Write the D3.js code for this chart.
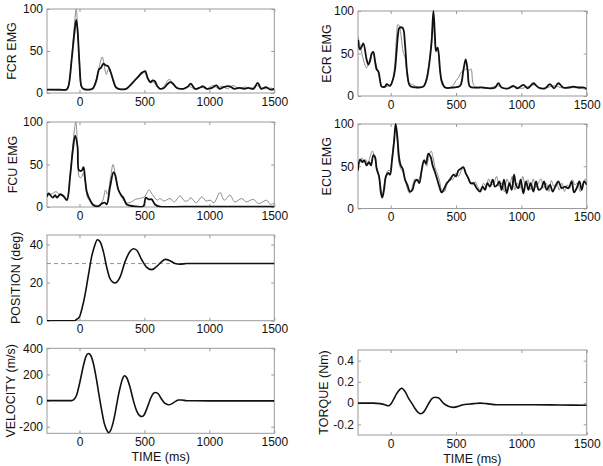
<!DOCTYPE html>
<html>
<head>
<meta charset="utf-8">
<script src="https://cdn.jsdelivr.net/npm/d3@7"></script>
<style>
  html, body { margin: 0; padding: 0; background: #fff; }
  svg { display: block; }
  text { font-family: "Liberation Sans", Arial, Helvetica, sans-serif; fill: #111; }
</style>
</head>
<body>
<svg id="chart" width="603" height="466"></svg>
<script>
// ---------------- DATA (time in ms, value) ----------------
const timeTicks = [0, 500, 1000, 1500];
const emgTicks = [0, 50, 100];
const positionTicks = [0, 20, 40];
const velocityTicks = [-200, 0, 200, 400];
const torqueTicks = [-0.2, 0, 0.2, 0.4];
const positionTarget = 30;

const fcrBlack = [[-250,4],[-150,4],[-100,4],[-85,8],[-60,40],[-40,70],[-25,87],[-15,75],[0,35],[15,8],[30,5],[60,4],[100,5],[130,15],[150,28],[165,30],[185,35],[200,33],[220,32],[240,25],[260,15],[280,7],[300,5],[360,5],[390,9],[420,14],[450,19],[480,24],[505,26],[525,18],[545,13],[565,15],[580,14],[600,8],[620,5],[650,6],[680,11],[700,13],[720,11],[750,6],[800,5],[830,7],[857,11],[890,5],[920,6],[952,8],[980,5],[1020,6],[1054,9],[1080,5],[1110,7],[1156,8],[1190,5],[1230,6],[1270,5],[1300,6],[1340,5],[1372,12],[1400,5],[1436,7],[1470,4],[1500,5]];
const fcrGray = [[-250,4],[-100,4],[-85,8],[-60,42],[-40,80],[-25,100],[-15,80],[0,35],[15,7],[30,4],[100,5],[130,17],[150,30],[175,43],[190,33],[207,22],[222,28],[240,25],[260,14],[280,6],[300,5],[350,5],[380,8],[420,15],[460,20],[490,24],[505,24],[525,16],[550,12],[570,13],[600,7],[620,5],[650,8],[690,16],[720,12],[750,7],[800,5],[840,8],[870,6],[900,4],[940,7],[980,5],[1030,9],[1060,6],[1100,8],[1140,5],[1180,9],[1220,6],[1280,7],[1320,5],[1360,9],[1400,6],[1440,5],[1470,6],[1500,4]];

const ecrBlack = [[-250,66],[-235,55],[-222,58],[-209,62],[-184,43],[-171,37],[-158,41],[-145,50],[-133,52],[-120,41],[-107,31],[-94,29],[-82,19],[-69,11],[-43,11],[-31,14],[-5,12],[20,21],[33,31],[46,54],[58,75],[66,80],[92,80],[110,60],[128,25],[148,12],[199,10],[250,11],[276,20],[288,30],[301,45],[314,65],[327,100],[339,70],[347,53],[360,57],[378,30],[390,18],[416,10],[480,10],[531,12],[556,30],[574,43],[589,30],[607,11],[658,10],[700,10],[760,9],[800,10],[824,15],[850,10],[900,9],[939,12],[970,9],[1015,13],[1050,9],[1092,15],[1130,10],[1180,9],[1219,14],[1250,9],[1283,15],[1320,10],[1360,10],[1398,11],[1440,10],[1480,10],[1500,8]];
const ecrGray = [[-250,70],[-235,60],[-220,50],[-200,38],[-185,33],[-170,38],[-150,48],[-135,50],[-120,43],[-100,30],[-85,22],[-70,12],[-40,11],[-10,12],[15,18],[30,35],[45,70],[55,84],[65,83],[80,70],[95,52],[110,45],[125,25],[140,15],[160,14],[200,11],[250,12],[275,22],[290,35],[305,55],[318,80],[327,92],[337,65],[350,55],[365,50],[380,25],[400,12],[450,10],[480,13],[500,18],[520,22],[540,28],[560,30],[580,32],[600,30],[615,32],[630,15],[650,10],[700,10],[750,9],[820,12],[860,9],[900,9],[950,11],[1000,9],[1050,11],[1100,13],[1150,9],[1200,10],[1250,12],[1300,10],[1350,9],[1400,10],[1450,9],[1500,8]];

const fcuBlack = [[-250,12],[-238,16],[-225,14],[-205,11],[-187,14],[-174,11],[-149,15],[-123,13],[-97,8],[-72,36],[-51,67],[-33,84],[-15,71],[-3,43],[18,43],[31,47],[44,32],[56,18],[82,8],[108,2],[146,1],[172,4],[197,5],[210,3],[236,24],[262,41],[274,38],[300,20],[326,13],[338,11],[364,3],[415,1],[492,1],[510,11],[531,9],[556,9],[582,3],[620,0.5],[800,0.5],[1000,0.5],[1200,0.5],[1500,0.5]];
const fcuGray = [[-250,15],[-220,15],[-180,18],[-150,14],[-120,12],[-100,9],[-70,40],[-50,75],[-28,100],[-15,70],[0,35],[15,35],[30,40],[45,30],[60,12],[80,7],[110,3],[150,2],[180,8],[200,20],[215,15],[240,35],[258,50],[280,35],[300,20],[330,10],[360,5],[400,6],[430,9],[460,10],[500,12],[536,20],[560,15],[600,8],[620,10],[650,7],[697,10],[730,6],[774,13],[810,7],[840,8],[856,11],[900,5],[941,12],[975,7],[1005,8],[1035,5],[1082,17],[1115,8],[1159,14],[1195,6],[1249,10],[1285,6],[1338,9],[1380,4],[1441,8],[1470,3],[1500,5]];

const ecuBlack = [[-250,45],[-235,58],[-217,55],[-202,57],[-184,51],[-166,55],[-151,51],[-133,63],[-120,61],[-107,47],[-89,38],[-74,18],[-64,13],[-51,22],[-36,38],[-18,42],[-5,40],[10,57],[26,79],[38,100],[51,85],[64,61],[77,51],[92,47],[110,34],[128,28],[148,20],[166,22],[186,32],[204,34],[219,30],[237,45],[255,57],[270,53],[288,65],[306,61],[321,51],[339,43],[357,34],[372,26],[390,19],[411,24],[429,30],[454,34],[480,40],[500,38],[518,45],[536,47],[556,49],[574,42],[594,36],[612,30],[633,30],[658,24],[684,20],[704,26],[722,22],[740,30],[760,26],[781,34],[798,26],[816,28],[832,32],[849,22],[867,34],[888,18],[908,30],[926,22],[944,40],[959,28],[977,24],[995,34],[1015,18],[1036,32],[1054,22],[1071,30],[1092,20],[1112,32],[1133,22],[1153,24],[1173,32],[1194,22],[1219,28],[1240,20],[1260,26],[1283,32],[1309,24],[1334,26],[1360,24],[1385,32],[1403,19],[1423,24],[1444,32],[1462,22],[1480,32],[1500,28]];
const ecuGray = [[-250,50],[-235,55],[-220,60],[-205,55],[-190,58],[-175,52],[-160,60],[-140,68],[-125,62],[-110,50],[-95,42],[-80,30],[-65,15],[-50,28],[-35,40],[-20,45],[-5,45],[10,60],[25,82],[38,95],[50,80],[62,55],[75,48],[90,44],[105,38],[125,25],[145,18],[165,25],[185,35],[205,32],[225,38],[245,52],[260,58],[275,50],[292,62],[310,68],[325,60],[340,48],[360,40],[375,32],[390,22],[410,20],[430,28],[455,36],[475,34],[500,42],[520,38],[540,45],[560,48],[580,40],[600,33],[625,28],[645,32],[665,26],[690,22],[710,30],[730,25],[750,35],[770,28],[790,30],[810,38],[830,26],[850,30],[870,20],[890,35],[910,28],[930,38],[950,22],[970,30],[990,24],[1010,38],[1030,28],[1050,34],[1070,22],[1090,35],[1110,25],[1130,30],[1150,35],[1170,24],[1190,30],[1210,20],[1230,33],[1250,26],[1270,30],[1290,22],[1310,30],[1330,20],[1350,28],[1370,24],[1390,34],[1410,28],[1430,30],[1450,20],[1470,28],[1490,35],[1500,30]];

const position = [[-250,0],[-100,0],[-40,0],[-26,0.5],[0,2],[18,6],[44,14],[69,24],[95,34],[115,39],[138,42.5],[159,41.5],[185,36],[210,28],[236,22],[274,19.8],[313,23],[351,31],[390,36.5],[415,37.8],[441,37],[479,32],[518,28],[556,26.8],[595,28.5],[633,31],[659,32.2],[697,31.5],[736,30],[774,29.7],[826,30],[1000,30],[1500,30]];
const velocity = [[-250,0],[-100,0],[-59,0],[-46,5],[-21,45],[5,150],[31,270],[51,340],[69,360],[87,345],[108,280],[133,150],[151,40],[172,-80],[190,-170],[210,-225],[223,-245],[236,-235],[256,-180],[274,-100],[292,0],[313,100],[331,165],[346,190],[364,175],[390,100],[415,0],[441,-80],[467,-118],[479,-122],[497,-110],[523,-50],[549,20],[569,55],[587,62],[608,50],[633,10],[659,-22],[685,-32],[710,-25],[736,-8],[762,5],[787,5],[826,-1],[1000,-2],[1500,-2]];
const torque = [[-250,0],[-133,0],[-82,-0.005],[-43,-0.015],[-18,-0.025],[0,-0.01],[20,0.03],[46,0.09],[71,0.13],[84,0.14],[110,0.11],[135,0.05],[161,0.0],[186,-0.05],[212,-0.09],[230,-0.1],[255,-0.08],[288,-0.01],[314,0.04],[339,0.055],[365,0.05],[403,0.0],[441,-0.03],[480,-0.04],[518,-0.03],[556,-0.015],[594,-0.01],[633,-0.005],[684,0],[735,-0.005],[811,-0.015],[888,-0.015],[1092,-0.015],[1300,-0.018],[1500,-0.02]];

// ---------------- LAYOUT ----------------
const L = {x0: 47, x1: 274.3};
const R = {x0: 358, x1: 586.7};
const xDomain = [-250, 1500];

const panels = [
  {label: "FCR EMG", col: L, y0: 9, y1: 93, yDomain: [0, 100], yTicks: emgTicks, labelX: 13,
   series: [{data: fcrGray, kind: "gray"}, {data: fcrBlack, kind: "black"}]},
  {label: "ECR EMG", col: R, y0: 11, y1: 96, yDomain: [0, 100], yTicks: emgTicks, labelX: 328,
   series: [{data: ecrGray, kind: "gray"}, {data: ecrBlack, kind: "black"}]},
  {label: "FCU EMG", col: L, y0: 122, y1: 207, yDomain: [0, 100], yTicks: emgTicks, labelX: 14,
   series: [{data: fcuGray, kind: "gray"}, {data: fcuBlack, kind: "black"}]},
  {label: "ECU EMG", col: R, y0: 124, y1: 208.5, yDomain: [0, 100], yTicks: emgTicks, labelX: 328,
   series: [{data: ecuGray, kind: "gray"}, {data: ecuBlack, kind: "black"}]},
  {label: "POSITION (deg)", col: L, y0: 235, y1: 320.7, yDomain: [0, 45], yTicks: positionTicks, labelX: 17,
   series: [{data: position, kind: "smooth"}], target: positionTarget},
  {label: "VELOCITY (m/s)", col: L, y0: 348.3, y1: 433.3, yDomain: [-250, 400], yTicks: velocityTicks, labelX: 12,
   series: [{data: velocity, kind: "smooth"}], xTitle: "TIME (ms)"},
  {label: "TORQUE (Nm)", col: R, y0: 350, y1: 435, yDomain: [-0.3, 0.5], yTicks: torqueTicks, labelX: 325,
   series: [{data: torque, kind: "smooth"}], xTitle: "TIME (ms)"}
];

const svg = d3.select("#chart");
const frameColor = "#9a9a9a";
const fmtTick = d => {
  if (d === 0) return "0";
  const s = Number.isInteger(d) ? String(d) : d.toFixed(1);
  return s; // plain hyphen-minus
};

panels.forEach((p, i) => {
  const x = d3.scaleLinear().domain(xDomain).range([p.col.x0, p.col.x1]);
  const y = d3.scaleLinear().domain(p.yDomain).range([p.y1, p.y0]);
  const g = svg.append("g");

  const clipId = "clip" + i;
  svg.append("clipPath").attr("id", clipId).append("rect")
    .attr("x", p.col.x0).attr("y", p.y0 - 1)
    .attr("width", p.col.x1 - p.col.x0).attr("height", p.y1 - p.y0 + 1.5);

  g.append("rect")
    .attr("x", p.col.x0).attr("y", p.y0)
    .attr("width", p.col.x1 - p.col.x0).attr("height", p.y1 - p.y0)
    .attr("fill", "none").attr("stroke", frameColor).attr("stroke-width", 1);

  const xa = g.append("g").attr("transform", `translate(0,${p.y1})`)
    .call(d3.axisBottom(x).tickValues(timeTicks).tickSizeInner(-3).tickSizeOuter(0).tickPadding(4).tickFormat(fmtTick));
  const xt = g.append("g").attr("transform", `translate(0,${p.y0})`)
    .call(d3.axisTop(x).tickValues(timeTicks).tickSizeInner(-3).tickSizeOuter(0).tickFormat(""));
  const ya = g.append("g").attr("transform", `translate(${p.col.x0},0)`)
    .call(d3.axisLeft(y).tickValues(p.yTicks).tickSizeInner(-3).tickSizeOuter(0).tickPadding(4).tickFormat(fmtTick));
  const yr = g.append("g").attr("transform", `translate(${p.col.x1},0)`)
    .call(d3.axisRight(y).tickValues(p.yTicks).tickSizeInner(-3).tickSizeOuter(0).tickFormat(""));

  [xa, xt, ya, yr].forEach(a => {
    a.select(".domain").remove();
    a.selectAll(".tick line").attr("stroke", frameColor);
    a.selectAll("text").attr("font-size", 12).attr("fill", "#111")
      .attr("font-family", '"Liberation Sans", Arial, Helvetica, sans-serif');
  });

  g.append("text")
    .attr("transform", `translate(${p.labelX},${(p.y0 + p.y1) / 2}) rotate(-90)`)
    .attr("text-anchor", "middle").attr("dominant-baseline", "middle")
    .attr("font-size", 12.5).text(p.label);

  if (p.xTitle) {
    g.append("text")
      .attr("x", (p.col.x0 + p.col.x1) / 2).attr("y", p.y1 + 28)
      .attr("text-anchor", "middle").attr("font-size", 12.5).text(p.xTitle);
  }

  const plot = g.append("g").attr("clip-path", `url(#${clipId})`);

  if (p.target !== undefined) {
    plot.append("line")
      .attr("x1", p.col.x0).attr("x2", p.col.x1)
      .attr("y1", y(p.target)).attr("y2", y(p.target))
      .attr("stroke", "#777").attr("stroke-width", 0.8).attr("stroke-dasharray", "4,3");
  }

  p.series.forEach(s => {
    const curve = s.kind === "smooth" ? d3.curveMonotoneX : d3.curveCatmullRom.alpha(0.5);
    const line = d3.line().x(d => x(d[0])).y(d => y(d[1])).curve(curve);
    plot.append("path").datum(s.data)
      .attr("d", line)
      .attr("fill", "none")
      .attr("stroke", s.kind === "gray" ? "#8a8a8a" : "#111")
      .attr("stroke-width", s.kind === "gray" ? 1 : (s.kind === "smooth" ? 1.6 : 1.8))
      .attr("stroke-linejoin", "round");
  });
});
</script>
</body>
</html>
